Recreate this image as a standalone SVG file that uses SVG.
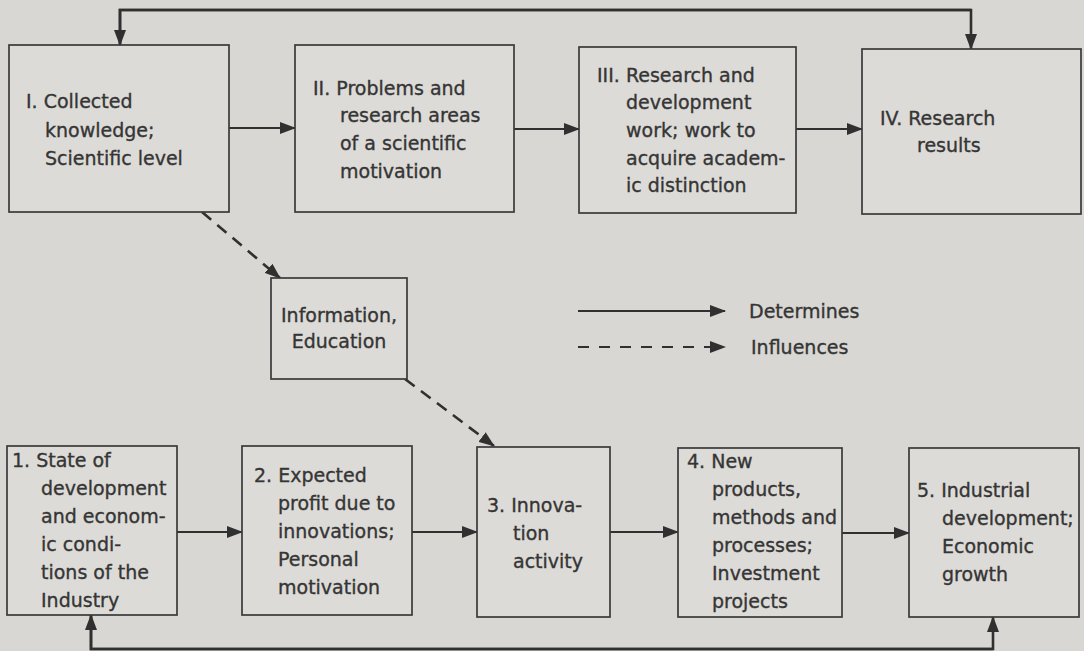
<svg xmlns="http://www.w3.org/2000/svg" width="1084" height="651" viewBox="0 0 1084 651">
<defs>
<style>
.box{fill:#dddbd7;stroke:#3a3a3a;stroke-width:1.7}
.t{font-family:"DejaVu Sans",sans-serif;font-size:19px;fill:#353535;stroke:#353535;stroke-width:0.35}
.c{text-anchor:middle}
.ln{fill:none;stroke:#303030;stroke-width:2}
.fb{fill:none;stroke:#303030;stroke-width:2.6}
.dash{fill:none;stroke:#303030;stroke-width:2.6;stroke-dasharray:12 8}
</style>
<marker id="ah" markerUnits="userSpaceOnUse" markerWidth="16" markerHeight="12" refX="15" refY="6" orient="auto">
<path d="M0,0 L16,6 L0,12 Z" fill="#303030"/>
</marker>
</defs>
<rect x="0" y="0" width="1084" height="651" fill="#d9d7d3"/>
<g id="connectors">
<path class="fb" d="M120,45 V10 H971 V49" marker-end="url(#ah)"/>
<path class="fb" d="M971,10 H120 V45" marker-end="url(#ah)"/>
<path class="fb" d="M91,615 V649 H993 V617" marker-end="url(#ah)"/>
<path class="fb" d="M993,649 H91 V615" marker-end="url(#ah)"/>
<line class="ln" x1="229" y1="128" x2="295" y2="128" marker-end="url(#ah)"/>
<line class="ln" x1="514" y1="129" x2="579" y2="129" marker-end="url(#ah)"/>
<line class="ln" x1="796" y1="129" x2="862" y2="129" marker-end="url(#ah)"/>
<line class="ln" x1="177" y1="532" x2="242" y2="532" marker-end="url(#ah)"/>
<line class="ln" x1="412" y1="532" x2="477" y2="532" marker-end="url(#ah)"/>
<line class="ln" x1="610" y1="532" x2="678" y2="532" marker-end="url(#ah)"/>
<line class="ln" x1="842" y1="533" x2="909" y2="533" marker-end="url(#ah)"/>
<line class="dash" x1="202" y1="212" x2="280" y2="278" marker-end="url(#ah)"/>
<line class="dash" x1="405" y1="379" x2="494" y2="446" marker-end="url(#ah)"/>
</g>
<g id="legend">
<line class="ln" x1="578" y1="311" x2="725" y2="311" marker-end="url(#ah)"/>
<text class="t" x="749" y="318">Determines</text>
<line class="dash" x1="578" y1="347" x2="725" y2="347" style="stroke-dasharray:11 10;stroke-width:2.2" marker-end="url(#ah)"/>
<text class="t" x="751" y="354">Influences</text>
</g>
<g id="nodeI">
<rect class="box" x="9" y="45" width="220" height="167"/>
<text class="t" x="26" y="108">I. Collected</text>
<text class="t" x="45" y="137">knowledge;</text>
<text class="t" x="45" y="165">Scientific level</text>
</g>
<g id="nodeII">
<rect class="box" x="295" y="45" width="219" height="167"/>
<text class="t" x="313" y="95">II. Problems and</text>
<text class="t" x="340" y="122">research areas</text>
<text class="t" x="340" y="150">of a scientific</text>
<text class="t" x="340" y="178">motivation</text>
</g>
<g id="nodeIII">
<rect class="box" x="579" y="47" width="217" height="166"/>
<text class="t" x="597" y="82">III. Research and</text>
<text class="t" x="626" y="109">development</text>
<text class="t" x="626" y="137">work; work to</text>
<text class="t" x="626" y="165">acquire academ-</text>
<text class="t" x="626" y="192">ic distinction</text>
</g>
<g id="nodeIV">
<rect class="box" x="862" y="49" width="219" height="165"/>
<text class="t" x="880" y="125">IV. Research</text>
<text class="t" x="917" y="152">results</text>
</g>
<g id="nodeInfo">
<rect class="box" x="271" y="278" width="136" height="101"/>
<text class="t c" x="339" y="322">Information,</text>
<text class="t c" x="339" y="348">Education</text>
</g>
<g id="node1">
<rect class="box" x="7" y="446" width="170" height="169"/>
<text class="t" x="12" y="467">1. State of</text>
<text class="t" x="41" y="495">development</text>
<text class="t" x="41" y="523">and econom-</text>
<text class="t" x="41" y="551">ic condi-</text>
<text class="t" x="41" y="579">tions of the</text>
<text class="t" x="41" y="607">Industry</text>
</g>
<g id="node2">
<rect class="box" x="242" y="446" width="170" height="169"/>
<text class="t" x="254" y="482">2. Expected</text>
<text class="t" x="278" y="510">profit due to</text>
<text class="t" x="278" y="538">innovations;</text>
<text class="t" x="278" y="566">Personal</text>
<text class="t" x="278" y="594">motivation</text>
</g>
<g id="node3">
<rect class="box" x="477" y="447" width="133" height="170"/>
<text class="t" x="487" y="512">3. Innova-</text>
<text class="t" x="513" y="540">tion</text>
<text class="t" x="513" y="568">activity</text>
</g>
<g id="node4">
<rect class="box" x="678" y="448" width="164" height="169"/>
<text class="t" x="687" y="468">4. New</text>
<text class="t" x="712" y="496">products,</text>
<text class="t" x="712" y="524">methods and</text>
<text class="t" x="712" y="552">processes;</text>
<text class="t" x="712" y="580">Investment</text>
<text class="t" x="712" y="608">projects</text>
</g>
<g id="node5">
<rect class="box" x="909" y="448" width="170" height="169"/>
<text class="t" x="917" y="497">5. Industrial</text>
<text class="t" x="942" y="525">development;</text>
<text class="t" x="942" y="553">Economic</text>
<text class="t" x="942" y="581">growth</text>
</g>
</svg>
